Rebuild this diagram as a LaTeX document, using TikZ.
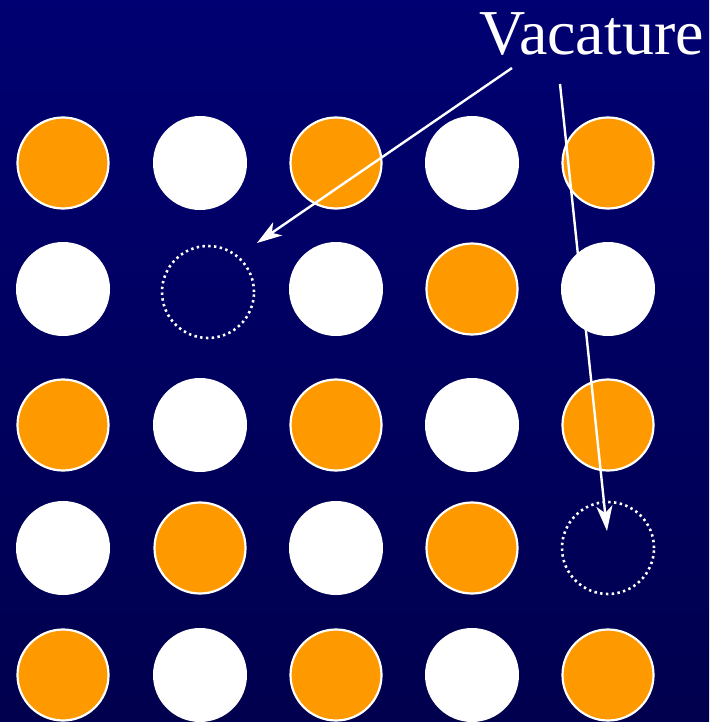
\documentclass[tikz,border=0pt]{standalone}
\usepackage{fontspec}
\setmainfont{Liberation Serif}
\usetikzlibrary{arrows.meta}
\definecolor{bgtop}{HTML}{000072}
\definecolor{bgbot}{HTML}{00004E}
\definecolor{dotorange}{HTML}{FF9900}
\tikzset{
  orangedot/.style={circle, minimum size=91pt, inner sep=0pt, fill=dotorange, draw=white, line width=2.2pt},
  whitedot/.style={circle, minimum size=94pt, inner sep=0pt, fill=white},
  vacancy/.style={circle, minimum size=92pt, inner sep=0pt, draw=white, line width=2.6pt, dash pattern=on 2.4pt off 3.4pt},
  pointer/.style={draw=white, line width=2.4pt, -{Stealth[length=25pt, width=16pt, inset=7pt]}},
  label/.style={text=white, font=\fontsize{64}{64}\selectfont, inner sep=0pt}
}
\begin{document}
\begin{tikzpicture}[x=1pt, y=-1pt]
\shade[top color=bgtop, bottom color=bgbot] (0,0) rectangle (709,722);
\useasboundingbox (0,0) rectangle (709,722);
% row 1
\node[orangedot] (a11) at (63,163) {};
\node[whitedot]  (a12) at (200,163) {};
\node[orangedot] (a13) at (336,163) {};
\node[whitedot]  (a14) at (472,163) {};
\node[orangedot] (a15) at (608,163) {};
% row 2
\node[whitedot]  (a21) at (63,289) {};
\node[vacancy]   (v1)  at (208,292) {};
\node[whitedot]  (a23) at (336,289) {};
\node[orangedot] (a24) at (472,289) {};
\node[whitedot]  (a25) at (608,289) {};
% row 3
\node[orangedot] (a31) at (63,425) {};
\node[whitedot]  (a32) at (200,425) {};
\node[orangedot] (a33) at (336,425) {};
\node[whitedot]  (a34) at (472,425) {};
\node[orangedot] (a35) at (608,425) {};
% row 4
\node[whitedot]  (a41) at (63,548) {};
\node[orangedot] (a42) at (200,548) {};
\node[whitedot]  (a43) at (336,548) {};
\node[orangedot] (a44) at (472,548) {};
\node[vacancy]   (v2)  at (608,548) {};
% row 5
\node[orangedot] (a51) at (63,675) {};
\node[whitedot]  (a52) at (200,675) {};
\node[orangedot] (a53) at (336,675) {};
\node[whitedot]  (a54) at (472,675) {};
\node[orangedot] (a55) at (608,675) {};
% label and pointers
\node[label, anchor=base east] (lbl) at (704,55) {Vacature};
\coordinate (s1) at (512,68);
\coordinate (s2) at (560,84);
\coordinate (t1) at (257,243);
\coordinate (t2) at (607,531);
\draw[pointer] (s1) -- (t1);
\draw[pointer] (s2) -- (t2);
\end{tikzpicture}
\end{document}
